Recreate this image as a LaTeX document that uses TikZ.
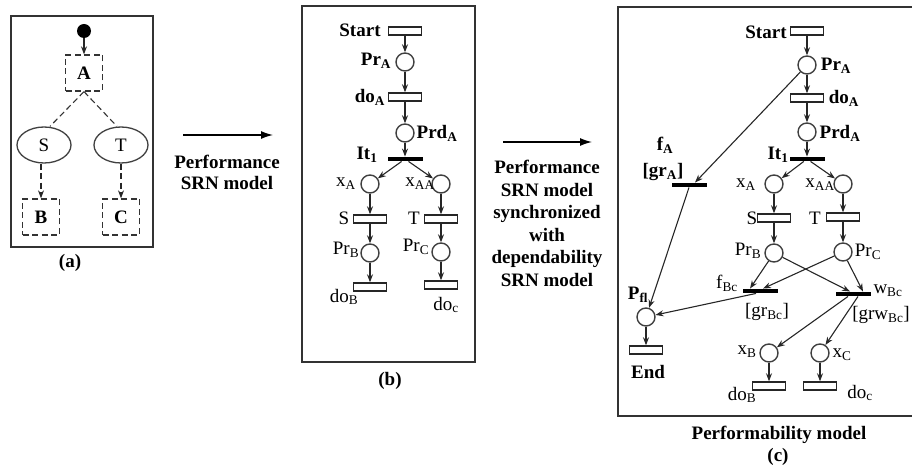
\documentclass[tikz,border=0pt]{standalone}
\usepackage{fontspec}
\setmainfont{Liberation Serif}
\usetikzlibrary{shapes,arrows.meta,positioning,calc}
\newcommand{\figfont}{\fontsize{19}{21}\selectfont}
\newcommand{\lo}[1]{\textsubscript{#1}}
\tikzset{
	frame/.style = {
		draw=black!80, 
		line width=1.6pt
	},
	place/.style = {
		draw=black!75, 
		circle, 
		minimum size=18pt, 
		inner sep=0pt, 
		line width=1.4pt
	},
	timed/.style = {
		draw=black!85, 
		rectangle, 
		minimum width=33pt, 
		minimum height=8pt, 
		inner sep=0pt, 
		line width=1.4pt
	},
	immed/.style = {
		fill=black, 
		rectangle, 
		minimum width=35pt, 
		minimum height=4.5pt, 
		inner sep=0pt
	},
	arc/.style = {
		-{Stealth[length=8pt, width=6pt]}, 
		line width=1.1pt, 
		black!85
	},
	bigarrow/.style = {
		-{Latex[length=12pt, width=8pt]}, 
		line width=1.3pt
	},
	activity/.style = {
		draw=black!80, 
		dash pattern=on 6pt off 3.5pt, 
		minimum width=37pt, 
		minimum height=36pt, 
		inner sep=0pt, 
		line width=1.3pt, 
		font=\figfont\bfseries
	},
	branchnode/.style = {
		draw=black!75, 
		ellipse, 
		minimum width=54pt, 
		minimum height=36pt, 
		inner sep=0pt, 
		line width=1.3pt, 
		font=\figfont
	},
	initdot/.style = {
		fill=black, 
		circle, 
		minimum size=14pt, 
		inner sep=0pt
	},
	tag/.style = {
		inner sep=0pt, 
		font=\figfont
	},
	btag/.style = {
		inner sep=0pt, 
		font=\figfont\bfseries
	}
}

\begin{document}
\begin{tikzpicture}[x=1pt, y=-1pt]
		\useasboundingbox (0,0) rectangle (912,470);
		
		% --- (a) activity diagram ---
		\draw[frame] (11,16) rectangle (153,247);
		\node[initdot] (init) at (84,31) {};
		\node[activity] (actA) at (84,73) {A};
		\node[branchnode] (brS) at (44,145) {S};
		\node[branchnode] (brT) at (121,145) {T};
		\node[activity] (actB) at (41,217) {B};
		\node[activity] (actC) at (121,217) {C};
		\node[btag] (capA) at (70,263) {(a)};
		
		\draw[arc] (init) -- (actA);
		\draw[line width=1.1pt, black!80, dash pattern=on 6pt off 3.5pt] (actA.south) -- ([xshift=6pt]brS.north);
		\draw[line width=1.1pt, black!80, dash pattern=on 6pt off 3.5pt] (actA.south) -- ([xshift=-4pt]brT.north);
		\draw[arc, dash pattern=on 6pt off 3.5pt] ([xshift=-3pt]brS.south) -- (actB);
		\draw[arc, dash pattern=on 6pt off 3.5pt] (brT) -- (actC);
		
		% --- first arrow ---
		\coordinate (arrAs) at (183,135);
		\coordinate (arrAe) at (273,135);
		\draw[bigarrow] (arrAs) -- (arrAe);
		\node[btag, align=center] (txtA) at (227,172) {Performance\\SRN model};
		
		% --- (b) performance SRN ---
		\draw[frame] (302,6) rectangle (475,362);
		\node[timed] (startB) at (405,31) {};
		\node[place] (prAB) at (405,62) {};
		\node[timed] (doAB) at (405,97) {};
		\node[place] (prdAB) at (405,133) {};
		\node[immed] (itB) at (405,159) {};
		\node[place] (xAB) at (370,184) {};
		\node[place] (xAAB) at (441,184) {};
		\node[timed] (sB) at (370,219) {};
		\node[timed] (tB) at (441,219) {};
		\node[place] (prBB) at (370,253) {};
		\node[place] (prCB) at (441,252) {};
		\node[timed] (doBB) at (370,287) {};
		\node[timed] (doCB) at (441,285) {};
		
		\node[btag] (startBl) at (360,30) {Start};
		\node[btag] (prABl) at (376,61) {Pr\lo{A}};
		\node[btag] (doABl) at (370,97) {do\lo{A}};
		\node[btag] (prdABl) at (437,133) {Prd\lo{A}};
		\node[btag] (itBl) at (367,155) {It\lo{1}};
		\node[tag] (xABl) at (346,184) {x\lo{A}};
		\node[tag] (xAABl) at (420,184) {x\lo{AA}};
		\node[tag] (sBl) at (344,218) {S};
		\node[tag] (tBl) at (414,218) {T};
		\node[tag] (prBBl) at (346,250) {Pr\lo{B}};
		\node[tag] (prCBl) at (416,247) {Pr\lo{C}};
		\node[tag] (doBBl) at (344,297) {do\lo{B}};
		\node[tag] (doCBl) at (446,305) {do\lo{c}};
		\node[btag] (capB) at (390,381) {(b)};
		
		\draw[arc] (startB) -- (prAB);
		\draw[arc] (prAB) -- (doAB);
		\draw[arc] (doAB) -- (prdAB);
		\draw[arc] (prdAB) -- (itB);
		\draw[arc] (itB) -- (xAB);
		\draw[arc] (itB) -- (xAAB);
		\draw[arc] (xAB) -- (sB);
		\draw[arc] (xAAB) -- (tB);
		\draw[arc] (sB) -- (prBB);
		\draw[arc] (tB) -- (prCB);
		\draw[arc] (prBB) -- (doBB);
		\draw[arc] (prCB) -- (doCB);
		
		% --- second arrow ---
		\coordinate (arrBs) at (503,142);
		\coordinate (arrBe) at (592,142);
		\draw[bigarrow] (arrBs) -- (arrBe);
		\node[btag, align=center, font=\fontsize{19}{22.6}\selectfont\bfseries] (txtB) at (547,223.5)
		{Performance\\SRN model\\synchronized\\with\\dependability\\SRN model};
		
		% --- (c) performability model ---
		\draw[frame] (912,7) -- (618,7) -- (618,416) -- (912,416);
		\node[timed] (startC) at (807,31) {};
		\node[place] (prAC) at (807,65) {};
		\node[timed] (doAC) at (807,98) {};
		\node[place] (prdAC) at (807,132) {};
		\node[immed] (itC) at (807,159) {};
		\node[immed] (fA) at (689,185) {};
		\node[place] (xAC) at (774,184) {};
		\node[place] (xAAC) at (843,184) {};
		\node[timed] (sC) at (774,218) {};
		\node[timed] (tC) at (843,217) {};
		\node[place] (prBC) at (774,253) {};
		\node[place] (prCC) at (843,252) {};
		\node[immed] (fBc) at (760,291) {};
		\node[immed] (wBc) at (853,294) {};
		\node[place] (pfl) at (646,317) {};
		\node[timed] (endC) at (646,350) {};
		\node[place] (xBC) at (769,353) {};
		\node[place] (xCC) at (820,353) {};
		\node[timed] (doBC) at (769,386) {};
		\node[timed] (doCC) at (820,386) {};
		
		\node[btag] (startCl) at (766,32) {Start};
		\node[btag] (prACl) at (836,66) {Pr\lo{A}};
		\node[btag] (doACl) at (844,98) {do\lo{A}};
		\node[btag] (prdACl) at (840,133) {Prd\lo{A}};
		\node[btag] (itCl) at (778,155) {It\lo{1}};
		\node[btag] (fAl) at (665,145) {f\lo{A}};
		\node[btag] (grAl) at (663,172) {[gr\lo{A}]};
		\node[tag] (xACl) at (746,185) {x\lo{A}};
		\node[tag] (xAACl) at (820,185) {x\lo{AA}};
		\node[tag] (sCl) at (752,218) {S};
		\node[tag] (tCl) at (815,218) {T};
		\node[tag] (prBCl) at (748,251) {Pr\lo{B}};
		\node[tag] (prCCl) at (868,252) {Pr\lo{C}};
		\node[tag] (fBcl) at (727,283) {f\lo{Bc}};
		\node[tag] (grBcl) at (767,312) {[gr\lo{Bc}]};
		\node[tag] (wBcl) at (888,291) {w\lo{Bc}};
		\node[tag, anchor=east] (grwBcl) at (910,315) {[grw\lo{Bc}]};
		\node[btag] (pfll) at (638,295) {P\lo{fl}};
		\node[btag] (endCl) at (648,372) {End};
		\node[tag] (xBCl) at (747,352) {x\lo{B}};
		\node[tag] (xCCl) at (842,355) {x\lo{C}};
		\node[tag] (doBCl) at (742,395) {do\lo{B}};
		\node[tag] (doCCl) at (860,393) {do\lo{c}};
		\node[btag] (capC) at (779,435) {Performability model};
		\node[btag] (capCc) at (778,457) {(c)};
		
		\draw[arc] (startC) -- (prAC);
		\draw[arc] (prAC) -- (doAC);
		\draw[arc] (doAC) -- (prdAC);
		\draw[arc] (prdAC) -- (itC);
		\draw[arc] (itC) -- (xAC);
		\draw[arc] (itC) -- (xAAC);
		\draw[arc] (xAC) -- (sC);
		\draw[arc] (xAAC) -- (tC);
		\draw[arc] (sC) -- (prBC);
		\draw[arc] (tC) -- (prCC);
		\draw[arc] (prAC) -- ([xshift=6pt]fA.north);
		\draw[arc] (fA.south) -- (pfl);
		\draw[arc] (prBC) -- ([xshift=-10pt]fBc.north);
		\draw[arc] (prCC) -- ([xshift=3pt]fBc.north);
		\draw[arc] (prBC) -- ([xshift=-3pt]wBc.north);
		\draw[arc] (prCC) -- ([xshift=10pt]wBc.north);
		\draw[arc] ([xshift=-4pt]fBc.south) -- (pfl);
		\draw[arc] ([xshift=-5pt]wBc.south) -- (xBC);
		\draw[arc] ([xshift=5pt]wBc.south) -- (xCC);
		\draw[arc] (pfl) -- (endC);
		\draw[arc] (xBC) -- (doBC);
		\draw[arc] (xCC) -- (doCC);
		
	\end{tikzpicture}
\end{document}
